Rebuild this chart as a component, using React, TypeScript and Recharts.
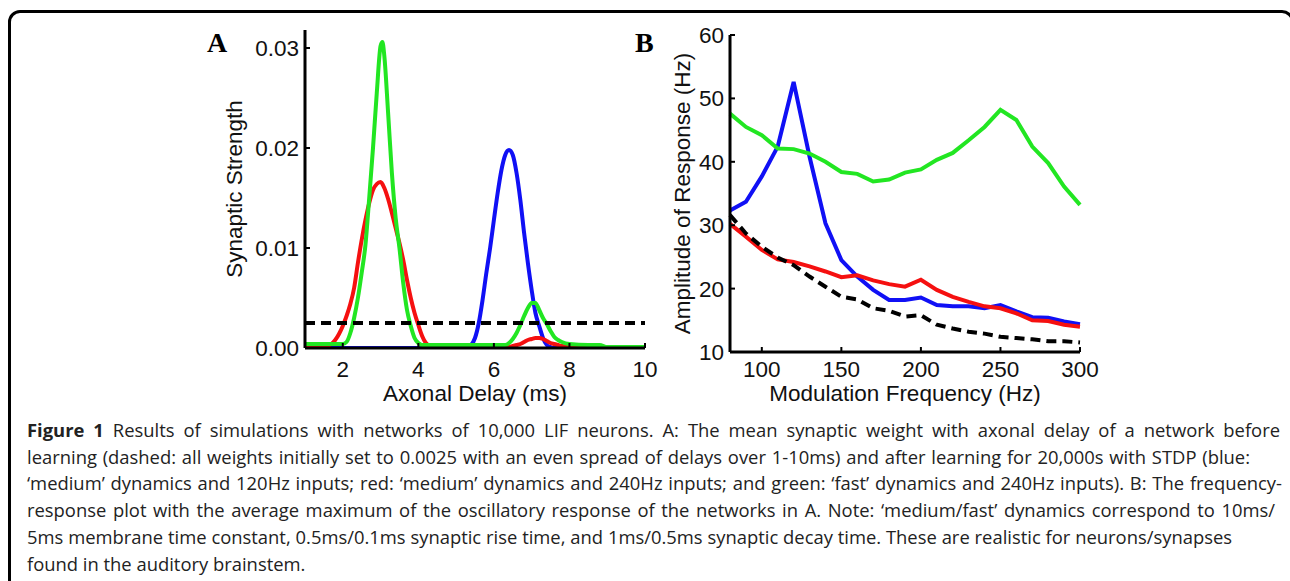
import { LineChart, Line, XAxis, YAxis, Label } from 'recharts';

// panel A: mean synaptic weight vs axonal delay
const delayTicks = [2, 4, 6, 8, 10];
const strengthTicks = [0, 0.01, 0.02, 0.03];

const initialDelay = [1, 10];
const initialWeight = [0.0025, 0.0025];

const blueDelay = [1, 2, 3, 4, 5, 5.3, 5.4, 5.5, 5.6, 5.7, 5.8, 5.9, 6.0, 6.1, 6.2, 6.3, 6.4, 6.5, 6.6, 6.7, 6.8, 6.9, 7.0, 7.1, 7.2, 7.3, 7.4, 7.5, 7.6, 8];
const blueWeight = [0, 0, 0, 0, 0, 0, 0.0003, 0.001, 0.0025, 0.0048, 0.0075, 0.01, 0.0128, 0.0155, 0.0178, 0.0193, 0.0198, 0.0193, 0.0175, 0.0148, 0.0115, 0.0085, 0.0058, 0.0035, 0.0022, 0.001, 0.0003, 0.0001, 0, 0];

const redDelay = [1, 1.5, 1.6, 1.7, 1.8, 1.9, 2.0, 2.1, 2.2, 2.3, 2.4, 2.5, 2.6, 2.7, 2.8, 2.9, 3.0, 3.1, 3.2, 3.3, 3.4, 3.5, 3.6, 3.7, 3.8, 3.9, 4.0, 4.1, 4.2, 4.3, 4.5, 5, 6, 6.4, 6.5, 6.6, 6.7, 6.8, 6.9, 7.0, 7.1, 7.2, 7.3, 7.4, 7.5, 7.6, 7.7, 7.8, 8.0, 8.2, 9, 10];
const redWeight = [0, 0, 0.0002, 0.0004, 0.0008, 0.0014, 0.0022, 0.0032, 0.0044, 0.006, 0.0085, 0.0108, 0.0128, 0.0145, 0.0158, 0.0164, 0.0166, 0.016, 0.0149, 0.0135, 0.012, 0.0105, 0.0088, 0.0068, 0.005, 0.0035, 0.0023, 0.0012, 0.0005, 0.0002, 0, 0, 0, 0.0001, 0.0002, 0.0003, 0.0004, 0.0006, 0.0008, 0.0009, 0.001, 0.001, 0.0009, 0.0007, 0.0005, 0.0004, 0.0003, 0.0002, 0.0001, 0, 0, 0];

const greenDelay = [1, 1.5, 2.0, 2.1, 2.2, 2.3, 2.4, 2.5, 2.6, 2.7, 2.8, 2.9, 3.0, 3.05, 3.1, 3.2, 3.3, 3.4, 3.5, 3.6, 3.7, 3.8, 3.9, 4.0, 4.1, 4.5, 5, 5.5, 6, 6.3, 6.4, 6.5, 6.6, 6.7, 6.8, 6.9, 7.0, 7.1, 7.2, 7.3, 7.4, 7.5, 7.6, 7.7, 7.8, 8.0, 8.5, 8.8, 9, 10];
const greenWeight = [0.0004, 0.0004, 0.0004, 0.0006, 0.0015, 0.003, 0.005, 0.0075, 0.0103, 0.015, 0.02, 0.0255, 0.0302, 0.0306, 0.0292, 0.0235, 0.0175, 0.013, 0.01, 0.0065, 0.0038, 0.0022, 0.001, 0.0005, 0.0003, 0.0003, 0.0003, 0.0003, 0.0003, 0.0003, 0.0005, 0.0009, 0.0015, 0.0023, 0.0032, 0.004, 0.0045, 0.0045, 0.0038, 0.003, 0.0024, 0.0017, 0.0011, 0.0008, 0.0006, 0.0004, 0.0003, 0.0003, 0.0001, 0.0001];

// panel B: amplitude of response vs modulation frequency
const freqs = [80, 90, 100, 110, 120, 130, 140, 150, 160, 170, 180, 190, 200, 210, 220, 230, 240, 250, 260, 270, 280, 290, 300];
const ampBlue = [32.3, 33.7, 37.7, 42.4, 52.6, 40.8, 30.3, 24.5, 21.9, 19.8, 18.2, 18.2, 18.6, 17.4, 17.2, 17.2, 16.9, 17.4, 16.4, 15.5, 15.4, 14.8, 14.4];
const ampRed = [30.2, 28.2, 26.1, 24.6, 24.2, 23.5, 22.7, 21.8, 22.1, 21.3, 20.7, 20.3, 21.4, 19.8, 18.7, 17.9, 17.2, 16.9, 16.1, 15.0, 14.9, 14.3, 14.0];
const ampGreen = [47.6, 45.5, 44.2, 42.1, 42.0, 41.3, 40.0, 38.4, 38.1, 36.9, 37.2, 38.3, 38.8, 40.3, 41.4, 43.4, 45.5, 48.2, 46.6, 42.4, 39.8, 36.1, 33.2];
const ampInitial = [31.6, 28.7, 26.6, 24.9, 23.7, 21.9, 20.3, 18.7, 18.3, 16.9, 16.5, 15.6, 15.8, 14.3, 13.7, 13.2, 12.9, 12.4, 12.2, 12.0, 11.7, 11.7, 11.5];
const freqTicks = [100, 150, 200, 250, 300];
const ampTicks = [10, 20, 30, 40, 50, 60];

const captionLines = [
  'Results of simulations with networks of 10,000 LIF neurons. A: The mean synaptic weight with axonal delay of a network before',
  'learning (dashed: all weights initially set to 0.0025 with an even spread of delays over 1-10ms) and after learning for 20,000s with STDP (blue:',
  '\u2018medium\u2019 dynamics and 120Hz inputs; red: \u2018medium\u2019 dynamics and 240Hz inputs; and green: \u2018fast\u2019 dynamics and 240Hz inputs). B: The frequency-',
  'response plot with the average maximum of the oscillatory response of the networks in A. Note: \u2018medium/fast\u2019 dynamics correspond to 10ms/',
  '5ms membrane time constant, 0.5ms/0.1ms synaptic rise time, and 1ms/0.5ms synaptic decay time. These are realistic for neurons/synapses',
  'found in the auditory brainstem.',
];
// right end of each caption line in the figure (0 = natural width)
const captionEnds = [1280, 1250, 1282, 1275, 1232, 0];

const toPoints = (xs: number[], ys: number[]) => xs.map((x, i) => ({ x, y: ys[i] }));

const freqRows = freqs.map((f, i) => ({
  f,
  blue: ampBlue[i],
  red: ampRed[i],
  green: ampGreen[i],
  initial: ampInitial[i],
}));

const SANS = '"Liberation Sans", Arial, Helvetica, sans-serif';
const BLUE = '#1010f5';
const RED = '#f51010';
const GREEN = '#22e622';
const LW = 4;
const CAPTION_X = 27;

const YTick = (props: any) => {
  const { x, y, payload, digits } = props;
  return (
    <g>
      <line x1={x} x2={x + 5} y1={y} y2={y} stroke='#000' strokeWidth={2} />
      <text x={x - 6} y={y} dy={8} textAnchor='end' fontSize={22.5} fontFamily={SANS} fill='#111'>
        {Number(payload.value).toFixed(digits)}
      </text>
    </g>
  );
};

const XTick = (props: any) => {
  const { x, y, payload, dy } = props;
  return (
    <g>
      <line x1={x} x2={x} y1={y} y2={y - 5} stroke='#000' strokeWidth={2} />
      <text x={x} y={y} dy={dy} textAnchor='middle' fontSize={22.5} fontFamily={SANS} fill='#111'>
        {payload.value}
      </text>
    </g>
  );
};

const labelStyle = { fontSize: 22.5, fontFamily: SANS, fill: '#111', textAnchor: 'middle' as const };
const axisLine = { stroke: '#000', strokeWidth: 3 };

const DelayChart = () => (
  <LineChart width={470} height={420} margin={{ top: 30, right: 15, bottom: 0, left: 0 }}>
    <Line data={toPoints(blueDelay, blueWeight)} dataKey='y' type='monotone' stroke={BLUE} strokeWidth={LW} dot={false} isAnimationActive={false} />
    <Line data={toPoints(redDelay, redWeight)} dataKey='y' type='monotone' stroke={RED} strokeWidth={LW} dot={false} isAnimationActive={false} />
    <Line data={toPoints(greenDelay, greenWeight)} dataKey='y' type='monotone' stroke={GREEN} strokeWidth={LW} dot={false} isAnimationActive={false} />
    <Line data={toPoints(initialDelay, initialWeight)} dataKey='y' type='linear' stroke='#000' strokeWidth={LW} strokeDasharray='10 6' dot={false} isAnimationActive={false} />
    <XAxis
      dataKey='x'
      type='number'
      domain={[1, 10]}
      ticks={delayTicks}
      interval={0}
      height={72}
      tickSize={0}
      tickMargin={0}
      axisLine={axisLine}
      tick={(p: any) => <XTick {...p} dy={29} />}
    >
      <Label value='Axonal Delay (ms)' position='insideBottom' offset={19} style={labelStyle} />
    </XAxis>
    <YAxis
      type='number'
      domain={[0, 0.0318]}
      ticks={strengthTicks}
      interval={0}
      width={115}
      tickSize={0}
      tickMargin={0}
      axisLine={axisLine}
      allowDataOverflow
      tick={(p: any) => <YTick {...p} digits={2} />}
    >
      <Label value='Synaptic Strength' angle={-90} position='insideLeft' offset={44} style={labelStyle} />
    </YAxis>
  </LineChart>
);

const FrequencyChart = () => (
  <LineChart width={490} height={420} data={freqRows} margin={{ top: 35, right: 20, bottom: 0, left: 0 }}>
    <Line dataKey='blue' type='linear' stroke={BLUE} strokeWidth={LW} dot={false} isAnimationActive={false} />
    <Line dataKey='red' type='linear' stroke={RED} strokeWidth={LW} dot={false} isAnimationActive={false} />
    <Line dataKey='green' type='linear' stroke={GREEN} strokeWidth={LW} dot={false} isAnimationActive={false} />
    <Line dataKey='initial' type='linear' stroke='#000' strokeWidth={LW} strokeDasharray='10 6' dot={false} isAnimationActive={false} />
    <XAxis
      dataKey='f'
      type='number'
      domain={[80, 300]}
      ticks={freqTicks}
      interval={0}
      height={68}
      tickSize={0}
      tickMargin={0}
      axisLine={axisLine}
      tick={(p: any) => <XTick {...p} dy={25} />}
    >
      <Label value='Modulation Frequency (Hz)' position='insideBottom' offset={19} style={labelStyle} />
    </XAxis>
    <YAxis
      type='number'
      domain={[10, 60]}
      ticks={ampTicks}
      interval={0}
      width={120}
      tickSize={0}
      tickMargin={0}
      axisLine={axisLine}
      tick={(p: any) => <YTick {...p} digits={0} />}
    >
      <Label value='Amplitude of Response (Hz)' angle={-90} position='insideLeft' offset={72} style={labelStyle} />
    </YAxis>
  </LineChart>
);

export default function App() {
  return (
    <div style={{ position: 'absolute', left: 0, top: 0, width: 1290, height: 581, overflow: 'hidden', background: '#fff' }}>
      <div
        style={{
          position: 'absolute',
          left: 8,
          top: 10,
          width: 1286,
          height: 700,
          boxSizing: 'border-box',
          border: '3px solid #000',
          borderRadius: 12,
        }}
      />
      <div style={{ position: 'absolute', left: 190, top: 0 }}>
        <DelayChart />
      </div>
      <div style={{ position: 'absolute', left: 610, top: 0 }}>
        <FrequencyChart />
      </div>
      <svg width={1290} height={420} style={{ position: 'absolute', left: 0, top: 0, pointerEvents: 'none' }}>
        <text x={207} y={52} fontSize={28} fontWeight='bold' fontFamily='"Liberation Serif", "Times New Roman", serif' fill='#000'>A</text>
        <text x={635} y={52} fontSize={28} fontWeight='bold' fontFamily='"Liberation Serif", "Times New Roman", serif' fill='#000'>B</text>
      </svg>
      <div
        style={{
          position: 'absolute',
          left: CAPTION_X,
          top: 417,
          fontFamily: '"Open Sans", "Noto Sans", sans-serif',
          fontSize: 18.4,
          lineHeight: '26.7px',
          color: '#222',
        }}
      >
        {captionLines.map((line, i) => (
          <div
            key={i}
            style={{
              width: captionEnds[i] ? captionEnds[i] - CAPTION_X : undefined,
              whiteSpace: 'nowrap',
              textAlign: 'justify',
              textAlignLast: captionEnds[i] ? 'justify' : 'left',
            }}
          >
            {i === 0 ? <b>Figure 1 </b> : null}
            {line}
          </div>
        ))}
      </div>
    </div>
  );
}
